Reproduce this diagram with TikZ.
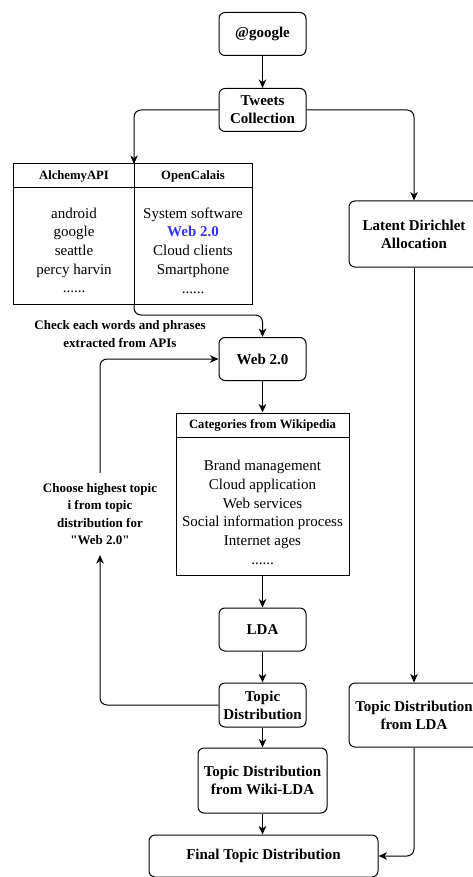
\documentclass[tikz,border=0pt]{standalone}
\usepackage{fontspec}
\setmainfont{Liberation Serif}
\usetikzlibrary{arrows.meta,positioning}
\definecolor{webblue}{RGB}{51,51,255}

\tikzset{
    box/.style={draw, rounded corners=6pt, line width=1pt, align=center, inner sep=0pt,
        font=\fontsize{15}{18}\selectfont\bfseries},
    flow/.style={line width=1pt, rounded corners=7pt, -{Stealth[length=8.5pt,width=7.5pt,inset=2.5pt]}},
    note/.style={align=center, font=\fontsize{13}{17.5}\selectfont\bfseries},
    cell/.style={align=center, font=\fontsize{15}{18.7}\selectfont},
    head/.style={font=\fontsize{12.7}{15}\selectfont\bfseries},
    table/.style={draw, line width=1pt, inner sep=0pt},
}

\begin{document}
\begin{tikzpicture}[x=1pt,y=-1pt]
        \useasboundingbox (0,0) rectangle (473,877);
        % middle column
        \node[box, minimum width=87pt, minimum height=43pt] (google) at (262.5,34) {@google};
        \node[box, minimum width=87pt, minimum height=43pt] (tweets) at (262.5,110) {Tweets\\Collection};
        \node[box, minimum width=87pt, minimum height=43pt] (web) at (262.5,359) {Web 2.0};
        \node[box, minimum width=87pt, minimum height=43pt] (lda) at (262.5,629.5) {LDA};
        \node[box, minimum width=87pt, minimum height=44pt] (topic) at (262.5,705) {Topic\\Distribution};
        \node[box, minimum width=129pt, minimum height=65pt] (wiki) at (262.5,780.5) {Topic Distribution\\from Wiki-LDA};
        \node[box, minimum width=229pt, minimum height=42pt] (final) at (263.5,856) {Final Topic Distribution};
        % right column
        \node[box, minimum width=130pt, minimum height=66pt] (lat) at (414,234) {Latent Dirichlet\\Allocation};
        \node[box, minimum width=130pt, minimum height=64pt] (tdlda) at (414,715) {Topic Distribution\\from LDA};

        % APIs table
        \node[table, minimum width=239pt, minimum height=140pt] (api) at (132.5,234) {};
        \coordinate (apitop) at (134,164);
        \coordinate (apibot) at (134,304);
        \draw[line width=1pt] (13,188) -- (252,188);
        \draw[line width=1pt] (apitop) -- (apibot);
        \node[head] (alchemy) at (74,176) {AlchemyAPI};
        \node[head] (calais) at (193,176) {OpenCalais};
        \node[cell] (alchemywords) at (74,250.5) {android\\google\\seattle\\percy harvin\\......};
        \node[cell] (calaiswords) at (193,250.5) {System software\\\textcolor{webblue}{\bfseries Web 2.0}\\Cloud clients\\Smartphone\\......};

        % Wikipedia table
        \node[table, minimum width=173pt, minimum height=162pt] (cat) at (262.5,494) {};
        \draw[line width=1pt] (cat.west |- 0,437) -- (cat.east |- 0,437);
        \node[head] (cathead) at (262.5,425) {Categories from Wikipedia};
        \node[cell] (catwords) at (262.5,512.5) {Brand management\\Cloud application\\Web services\\Social information process\\Internet ages\\......};

        % labels
        \node[note] (check) at (120,334) {Check each words and phrases\\extracted from APIs};
        \node[note, inner ysep=10pt] (choose) at (100,514) {Choose highest topic\\i from topic\\distribution for\\\textquotedbl Web 2.0\textquotedbl};

        % connectors
        \draw[flow] (google) -- (tweets);
        \draw[flow] (tweets.west) -| (apitop);
        \draw[flow] (tweets.east) -| (lat.north);
        \draw[flow] (apibot) -- ++(0,11) -| (web.north);
        \draw[flow] (web) -- (cat);
        \draw[flow] (cat) -- (lda);
        \draw[flow] (lda) -- (topic);
        \draw[flow] (topic) -- (wiki);
        \draw[flow] (wiki) -- (wiki.south |- final.north);
        \draw[flow] (lat) -- (tdlda);
        \draw[flow] (tdlda.south) |- (final.east);
        \draw[flow] (topic.west) -| (choose.south);
        \draw[flow] (choose.north) |- (web.west);
\end{tikzpicture}
\end{document}
